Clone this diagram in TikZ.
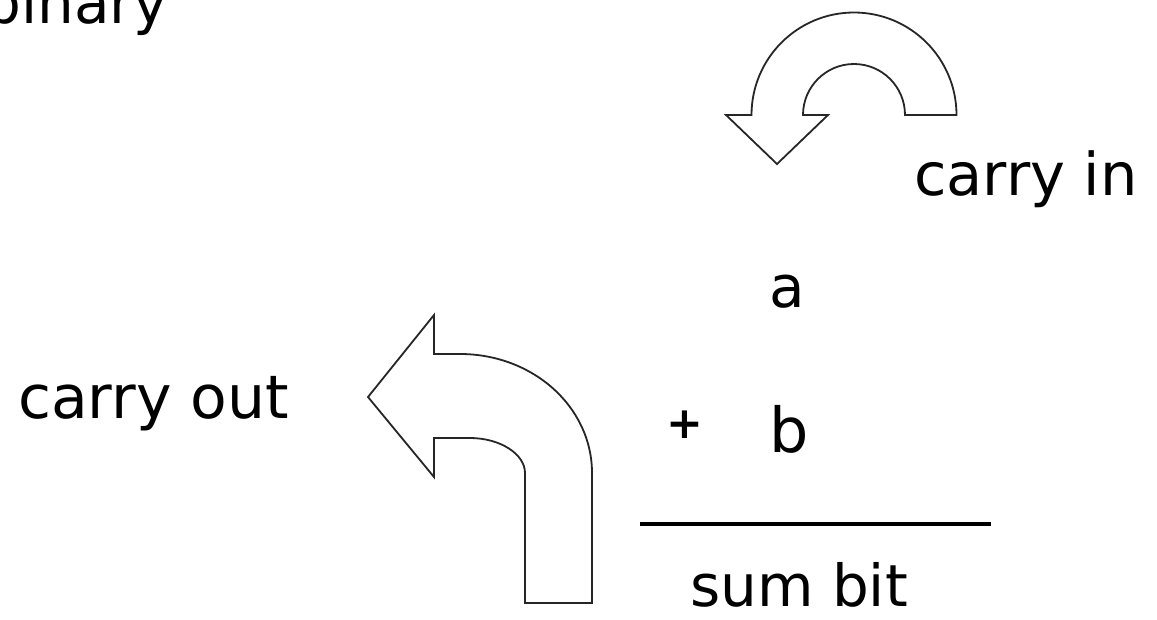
\documentclass[tikz,border=0pt]{standalone}
\usepackage{fontspec}
\setmainfont{DejaVu Sans}
\begin{document}
\begin{tikzpicture}[x=1pt,y=-1pt,
  lbl/.style={inner sep=0pt,font=\fontsize{58}{60}\selectfont},
  bigarrow/.style={draw=black!85,line width=1.8pt,fill=white,line join=miter},
  rule/.style={line width=4pt,black}]
\useasboundingbox (0,0) rectangle (1157,619);
\clip (0,0) rectangle (1157,619);
% title fragment
\node[lbl,anchor=base east] (title) at (168,23) {binary};
% carry in arrow (semicircular, pointing down-left)
\draw[bigarrow] (751.5,115) arc[start angle=180,end angle=360,radius=102.5]
  -- (905,115) arc[start angle=360,end angle=180,radius=51]
  -- (828,115) -- (777,164) -- (726,115) -- cycle;
% carry out arrow (bent up then left)
\draw[bigarrow] (434,315) -- (434,354) -- (460,354)
  .. controls (533,354) and (592,407) .. (592,473)
  -- (592,603) -- (525,603) -- (525,473)
  .. controls (525,454) and (500,438) .. (470,438)
  -- (434,438) -- (434,477) -- (368,397) -- cycle;
% labels
\node[lbl,anchor=base west,font=\fontsize{59}{61}\selectfont] (cin) at (914,195) {carry in};
\node[lbl,anchor=base west,font=\fontsize{60}{62}\selectfont] (cout) at (18,418) {carry out};
\node[lbl,anchor=base] (a) at (787,307) {a};
\node[lbl,anchor=base,font=\fontsize{62}{64}\selectfont] (b) at (789,452) {b};
\node[inner sep=0pt,font=\fontsize{44}{46}\selectfont\bfseries] (plus) at (685,425) {+};
\coordinate (rl) at (640,524);
\coordinate (rr) at (991,524);
\draw[rule] (rl) -- (rr);
\node[lbl,anchor=base west] (sum) at (690,606) {sum bit};
\end{tikzpicture}
\end{document}
